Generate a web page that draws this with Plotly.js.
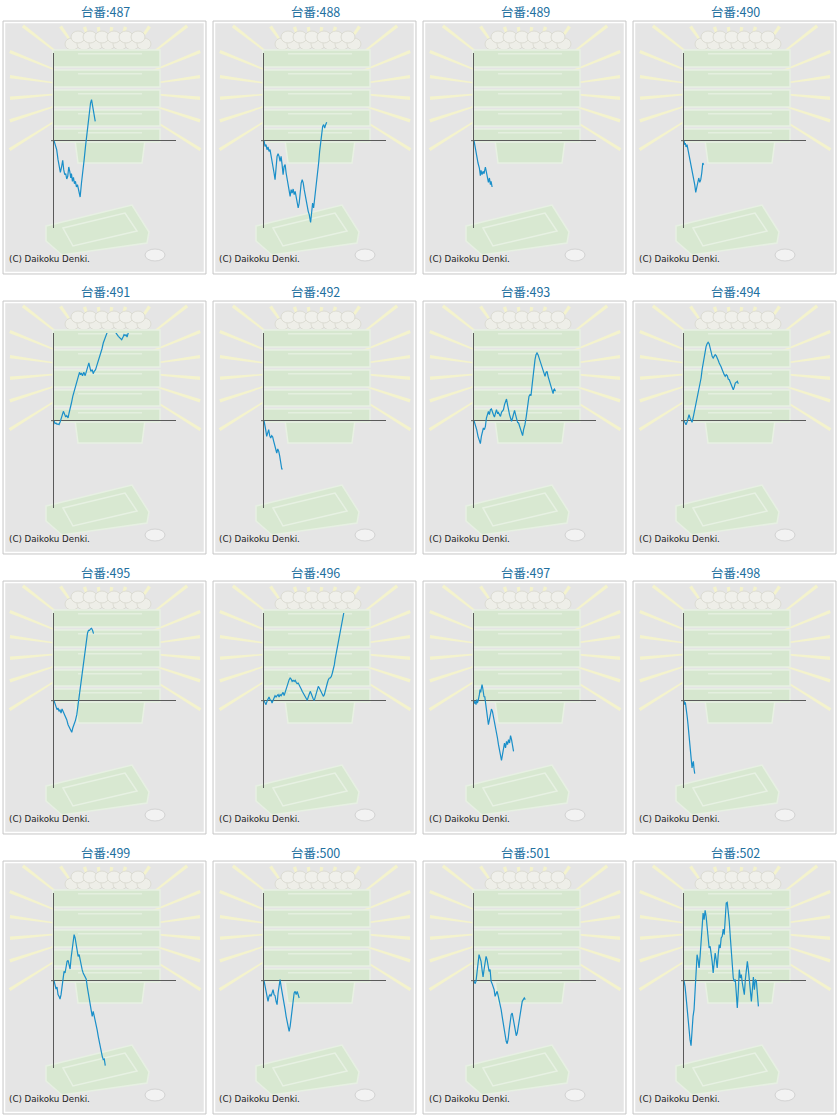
<!DOCTYPE html>
<html>
<head>
<meta charset="utf-8">
<script src="https://cdn.plot.ly/plotly-3.0.1.min.js"></script>
<style>
  html, body { margin: 0; padding: 0; background: #ffffff; }
  #chart { width: 840px; height: 1120px; }
</style>
</head>
<body>
<div id="chart"></div>
<script>
// machine numbers, one small chart each (4 x 4)
var machines = [487, 488, 489, 490, 491, 492, 493, 494, 495, 496, 497, 498, 499, 500, 501, 502];

// games played (x) and coin difference (y)
var GAMES = [0,60,120,180,240,300,360,420,480,540,600,660,720,780,840,900,960,1020,1080,1140,1200,1260,1320,1380,1440,1500,1560,1620,1680,1740,1800,1860,1920,1980,2040,2100,2160,2220,2280,2340,2400,2460,2520,2580,2640,2700,2760,2820,2880,2940,3000,3060,3120,3180,3240,3300,3360,3420,3480,3540,3600,3660,3720,3780,3840,3900,3960,4020,4080,4140,4200,4260,4320,4380,4440];

var games487 = [0,80,160,240,320,380,440,520,580,640,700,760,820,880,940,1000,1040,1100,1160,1220,1280,1340,1400,1480,1560,1640,1720,1800,1880,1960,2040,2120,2180,2240,2300,2360,2420,2460];
var coins487 = [0,-120,-270,-570,-770,-950,-820,-590,-870,-1020,-990,-1150,-1070,-790,-920,-1120,-990,-1220,-1100,-1290,-1220,-1390,-1320,-1520,-1690,-1270,-970,-570,-170,230,630,930,1130,1230,1080,930,730,580];

var games488 = [0,60,120,180,240,300,360,440,520,600,660,720,780,840,900,960,1020,1080,1140,1200,1260,1320,1380,1440,1500,1560,1620,1680,1740,1800,1860,1920,1980,2040,2100,2160,2220,2280,2340,2400,2460,2520,2580,2640,2700,2780,2840,2900,2960,3020,3080,3140,3200,3260,3320,3380,3440,3500,3560,3620,3680,3740];
var coins488 = [0,-170,-120,-270,-190,-320,-270,-470,-720,-970,-1170,-770,-470,-390,-470,-620,-470,-720,-1020,-770,-720,-970,-1170,-1370,-1520,-1670,-1470,-1570,-1450,-1620,-1520,-1670,-1820,-2020,-1870,-1470,-1270,-1170,-1270,-1470,-1670,-1870,-2020,-2120,-2220,-2450,-2170,-1870,-2020,-1770,-1570,-1270,-970,-670,-320,-20,230,430,480,380,480,550];

var games489 = [0,40,100,160,240,320,380,420,480,540,600,680,740,800,860,920,980,1020,1080];
var coins489 = [0,-120,-270,-470,-670,-820,-1050,-890,-1020,-920,-990,-790,-950,-1070,-1250,-1120,-1320,-1220,-1390];

var games490 = [0,40,80,120,180,240,320,400,480,560,640,700,760,820,880,940,1000,1060,1120,1180];
var coins490 = [0,-120,-70,-190,-120,-270,-470,-670,-870,-1120,-1320,-1550,-1420,-1270,-1120,-1250,-1170,-970,-670,-720];

var games491 = [0,60,120,180,240,300,360,420,500,560,620,700,760,840,900,960,1040,1120,1200,1280,1340,1400,1460,1520,1580,1640,1700,1780,1860,1940,2020,2080,2140,2200,2280,2340,2400,2480,2540,2600,2660,2720,2800,2860,2940,3000,3080,3160,3240,3440,3640,3700,3840,3960,4040,4120,4180,4240,4300,4360,4420,4440];
var coins491 = [0,-90,-70,-110,-100,-120,-50,80,180,280,180,110,150,80,230,330,530,730,880,1030,1130,1280,1380,1450,1380,1430,1350,1450,1350,1530,1630,1730,1580,1480,1530,1410,1480,1530,1630,1730,1780,1930,2030,2150,2330,2430,2530,2630,2730,2880,2780,2630,2530,2480,2430,2510,2580,2550,2580,2510,2610,2650];

var games492 = [0,60,100,160,220,280,340,400,460,520,580,640,700,760,820,880,940,1000,1060,1120];
var coins492 = [0,-120,-270,-470,-320,-270,-450,-520,-450,-490,-620,-720,-870,-970,-850,-920,-1070,-1270,-1450,-1450];

var games493 = [0,80,160,240,320,380,440,500,560,620,680,740,800,860,920,980,1040,1100,1160,1220,1280,1340,1400,1460,1520,1580,1640,1700,1760,1820,1880,1940,2000,2060,2120,2180,2240,2300,2360,2420,2480,2540,2600,2660,2720,2780,2840,2900,2960,3040,3120,3200,3280,3340,3400,3460,3520,3580,3640,3700,3760,3820,3880,3940,4000,4060,4120,4180,4240,4300,4360,4420,4480,4540,4600,4660,4720,4760,4800,4860];
var coins493 = [0,-120,-270,-470,-650,-690,-470,-270,-220,-270,-170,80,230,280,180,330,350,230,180,110,280,330,230,250,180,130,250,280,330,480,580,650,480,280,180,80,-20,80,180,310,180,30,-50,-70,-170,-270,-370,-450,-270,-120,130,430,730,780,750,1030,1330,1630,1830,1980,2030,1980,1880,1810,1730,1630,1530,1410,1330,1450,1480,1330,1230,1130,1030,930,810,930,950,880];

var coins494 = [0,-90,-120,-50,110,180,80,30,-50,80,230,350,480,630,780,930,1080,1280,1530,1730,1930,2110,2230,2310,2350,2310,2150,2010,1930,1880,1930,1980,1950,1850,1810,1730,1680,1610,1530,1430,1380,1330,1380,1350,1250,1230,1150,1080,980,930,1010,1130,1150,1180,1110];

var games495 = [0,60,120,180,240,300,360,420,480,540,600,680,760,840,920,1000,1060,1120,1200,1280,1360,1440,1500,1560,1640,1700,1760,1820,1880,1940,2000,2060,2120,2180,2240,2300,2360];
var coins495 = [0,-120,-190,-270,-220,-320,-270,-370,-250,-320,-370,-470,-570,-720,-790,-890,-950,-820,-720,-590,-420,-120,180,430,680,930,1180,1430,1680,1880,2030,2110,2110,2150,2170,2110,2010];

var games496 = [0,60,120,180,240,300,360,420,480,540,600,660,720,780,840,900,960,1020,1080,1140,1200,1260,1320,1380,1440,1500,1560,1620,1680,1740,1800,1860,1920,1980,2040,2100,2160,2220,2280,2340,2400,2460,2520,2580,2640,2700,2760,2820,2880,2940,3000,3060,3120,3180,3240,3300,3360,3420,3480,3540,3600,3660,3720,3780,3840,3900,3960,4020,4080,4140,4200,4240,4300,4360,4420,4480,4540,4600,4660,4720,4760];
var coins496 = [0,-90,-120,-20,50,110,30,10,-70,30,80,150,110,150,180,110,180,150,230,250,150,250,330,480,580,630,680,650,580,610,580,610,550,510,530,480,430,350,280,230,180,110,50,10,110,230,280,210,110,50,10,110,230,330,430,380,310,250,180,130,180,330,430,530,630,680,680,730,830,930,1080,1230,1380,1550,1730,1880,2030,2180,2330,2530,2630];

var games497 = [0,40,80,120,160,200,240,280,320,360,400,440,480,520,560,600,640,680,720,760,800,860,920,980,1040,1100,1160,1220,1280,1340,1400,1460,1520,1580,1640,1700,1760,1820,1880,1940,2000,2060,2120,2180,2240,2300,2360];
var coins497 = [0,-90,-20,-120,30,-70,-20,50,180,330,250,380,480,380,230,110,130,-50,-220,-370,-520,-720,-570,-370,-250,-320,-470,-570,-720,-920,-1120,-1320,-1520,-1670,-1790,-1620,-1370,-1270,-1420,-1220,-1320,-1170,-1270,-1050,-1170,-1370,-1520];

var games498 = [0,40,80,120,160,200,240,280,320,360,400,440,480,520,560,600,640];
var coins498 = [0,-120,-50,-170,-270,-520,-720,-920,-1170,-1370,-1570,-1820,-2020,-1890,-1820,-2050,-2190];

var coins499 = [0,-120,-250,-190,-420,-470,-550,-420,-170,80,280,230,430,580,610,430,350,680,930,1180,1380,1280,1080,930,730,780,580,480,330,230,180,110,50,-170,-370,-570,-820,-870,-1070,-920,-1050,-1170,-1320,-1490,-1670,-1850,-1990,-2150,-2270,-2370,-2350,-2550];

var coins500 = [0,-170,-370,-520,-620,-470,-420,-470,-320,-270,-420,-450,-620,-720,-370,-120,30,-170,-320,-470,-670,-870,-1070,-1250,-1370,-1520,-1370,-1120,-820,-470,-370,-320,-420,-320,-450,-520];

var coins501 = [0,-90,-20,330,630,780,680,580,330,110,330,550,730,630,480,280,330,-20,-90,-170,-270,-470,-370,-320,-450,-570,-720,-870,-1070,-1270,-1470,-1670,-1820,-1890,-1750,-1470,-1220,-1020,-970,-1120,-1270,-1470,-1650,-1570,-1370,-1120,-920,-720,-620,-570,-520,-570];

var coins502 = [0,-170,-470,-820,-1170,-1470,-1770,-1950,-1470,-1070,-870,-270,530,780,630,380,730,1230,1730,2030,1830,2110,1930,1530,1230,980,1030,830,580,230,580,830,630,380,780,1080,980,1280,1330,1550,1380,1780,2330,2350,2130,1780,1330,830,430,80,-20,30,-370,-820,-320,330,80,180,-70,-270,-420,30,330,580,330,30,-270,-620,-270,110,-270,30,-20,-470,-770];

var series = [
  [games487, coins487], [games488, coins488], [games489, coins489], [games490, coins490],
  [games491, coins491], [games492, coins492], [games493, coins493], [GAMES.slice(0, coins494.length), coins494],
  [games495, coins495], [games496, coins496], [games497, coins497], [games498, coins498],
  [GAMES.slice(0, coins499.length), coins499], [GAMES.slice(0, coins500.length), coins500],
  [GAMES.slice(0, coins501.length), coins501], [GAMES.slice(0, coins502.length), coins502]
];

var W = 840, H = 1120;
var lineColor = '#1a8fc9';
var axisColor = '#5a5a5a';

// background picture of each panel, drawn as shapes in page pixels
function decor(ox, oy) {
  var s = [];
  function X(x) { return (ox + x) / W; }
  function Y(y) { return 1 - (oy + y) / H; }
  function path(pts) {
    return 'M' + pts.map(function(p) { return X(p[0]) + ',' + Y(p[1]); }).join('L') + 'Z';
  }
  function rect(x0, y0, x1, y1, fill, edge, w) {
    s.push({type: 'rect', x0: X(x0), x1: X(x1), y0: Y(y1), y1: Y(y0),
            fillcolor: fill, line: {color: edge, width: w}});
  }
  function oval(cx, cy, rx, ry, fill, edge) {
    s.push({type: 'circle', x0: X(cx - rx), x1: X(cx + rx), y0: Y(cy + ry), y1: Y(cy - ry),
            fillcolor: fill, line: {color: edge, width: 1}});
  }

  rect(3, 21, 206, 274, '#e5e5e5', '#c9c9c9', 1);
  rect(4.5, 22.5, 204.5, 272.5, 'rgba(0,0,0,0)', '#ffffff', 1.5);

  // rays
  var cx = 105, cy = 90;
  var angles = [-32, -18, -5, 8, 22, 38, 55, 72, 84, 96, 108, 125, 142, 158, 172, 185, 198, 212];
  angles.forEach(function(a) {
    var dx = Math.cos(a * Math.PI / 180), dy = -Math.sin(a * Math.PI / 180);
    var tx = dx > 0 ? (203 - cx) / dx : (dx < 0 ? (7 - cx) / dx : 1e9);
    var ty = dy > 0 ? (270 - cy) / dy : (dy < 0 ? (24 - cy) / dy : 1e9);
    var t = Math.min(tx, ty) - 3;
    var n = 0.6, m = 1.7;
    var px = -dy, py = dx;
    s.push({type: 'path', path: path([
      [cx + dx * 45 + px * n, cy + dy * 45 + py * n],
      [cx + dx * t + px * m, cy + dy * t + py * m],
      [cx + dx * t - px * m, cy + dy * t - py * m],
      [cx + dx * 45 - px * n, cy + dy * 45 - py * n]
    ]), fillcolor: '#f4f3cd', line: {width: 0}});
  });

  // balls on top of the boxes
  [72, 84, 96, 108, 120, 132, 144].forEach(function(x) { oval(x, 44, 7, 6, '#eeeee8', '#dcdcd3'); });
  [78, 90, 102, 114, 126, 138].forEach(function(x) { oval(x, 37, 7, 6, '#f0f0eb', '#dcdcd3'); });

  // stacked boxes
  s.push({type: 'path', path: path([[75, 140], [145, 140], [142, 163], [78, 163]]),
          fillcolor: '#d6e7cf', line: {color: '#e8f1e3', width: 1.5}});
  [[50, 67], [70, 87], [90, 107], [110, 126], [129, 142]].forEach(function(b) {
    rect(53, b[0], 160, b[1], '#d6e7cf', '#e8f1e3', 1.5);
    rect(78, b[0] + 3, 142, b[0] + 4.5, '#e4efdf', '#e4efdf', 0);
  });

  // tray and coin
  s.push({type: 'path', path: path([[46, 226], [132, 205], [149, 232], [147, 243], [62, 255], [46, 241]]),
          fillcolor: '#d8e8d1', line: {color: '#e7f0e3', width: 1.5}});
  s.push({type: 'path', path: path([[63, 228], [125, 213], [137, 231], [73, 246]]),
          fillcolor: 'rgba(0,0,0,0)', line: {color: '#e7f1e3', width: 1.5}});
  oval(155, 255, 10, 6, '#f2f2f2', '#d3d3d3');

  s.forEach(function(o) { o.xref = 'paper'; o.yref = 'paper'; o.layer = 'below'; });
  return s;
}

var data = [];
var layout = {
  width: W, height: H,
  margin: {l: 0, r: 0, t: 0, b: 0},
  paper_bgcolor: '#ffffff',
  plot_bgcolor: 'rgba(0,0,0,0)',
  showlegend: false,
  shapes: [],
  annotations: []
};

for (var i = 0; i < machines.length; i++) {
  var r = Math.floor(i / 4), c = i % 4;
  var ox = 210 * c, oy = 280 * r;
  var n = i === 0 ? '' : String(i + 1);

  layout['xaxis' + n] = {
    domain: [(ox + 54) / W, (ox + 176) / W],
    range: [0, 7280],
    showgrid: false, zeroline: false, showline: false,
    showticklabels: false, ticks: '', fixedrange: true,
    anchor: 'y' + n
  };
  layout['yaxis' + n] = {
    domain: [1 - (oy + 228) / H, 1 - (oy + 53) / H],
    range: [-2620, 2630],
    showgrid: false,
    zeroline: true, zerolinecolor: axisColor, zerolinewidth: 1,
    showline: true, linecolor: axisColor, linewidth: 1,
    showticklabels: false, ticks: '', fixedrange: true,
    anchor: 'x' + n
  };

  data.push({
    x: series[i][0], y: series[i][1],
    xaxis: 'x' + n, yaxis: 'y' + n,
    type: 'scatter', mode: 'lines',
    line: {color: lineColor, width: 1.2},
    hoverinfo: 'skip'
  });

  layout.shapes = layout.shapes.concat(decor(ox, oy));
  // zero line pokes out a little left of the vertical axis
  layout.shapes.push({
    type: 'line', xref: 'paper', yref: 'y' + n,
    x0: (ox + 51) / W, x1: (ox + 54) / W, y0: 0, y1: 0,
    line: {color: axisColor, width: 1}
  });

  layout.annotations.push({
    xref: 'paper', yref: 'paper',
    x: (ox + 105) / W, y: 1 - (oy + 12) / H,
    xanchor: 'center', yanchor: 'middle',
    text: '台番:' + machines[i], showarrow: false,
    font: {family: 'Noto Sans CJK JP, sans-serif', size: 12.5, color: '#22709f'}
  });
  layout.annotations.push({
    xref: 'paper', yref: 'paper',
    x: (ox + 7) / W, y: 1 - (oy + 259) / H,
    xanchor: 'left', yanchor: 'middle',
    text: '(C) Daikoku Denki.', showarrow: false,
    font: {family: 'DejaVu Sans, sans-serif', size: 8.7, color: '#1e1e1e'}
  });
}

Plotly.newPlot('chart', data, layout, {staticPlot: true, displayModeBar: false});
</script>
</body>
</html>
